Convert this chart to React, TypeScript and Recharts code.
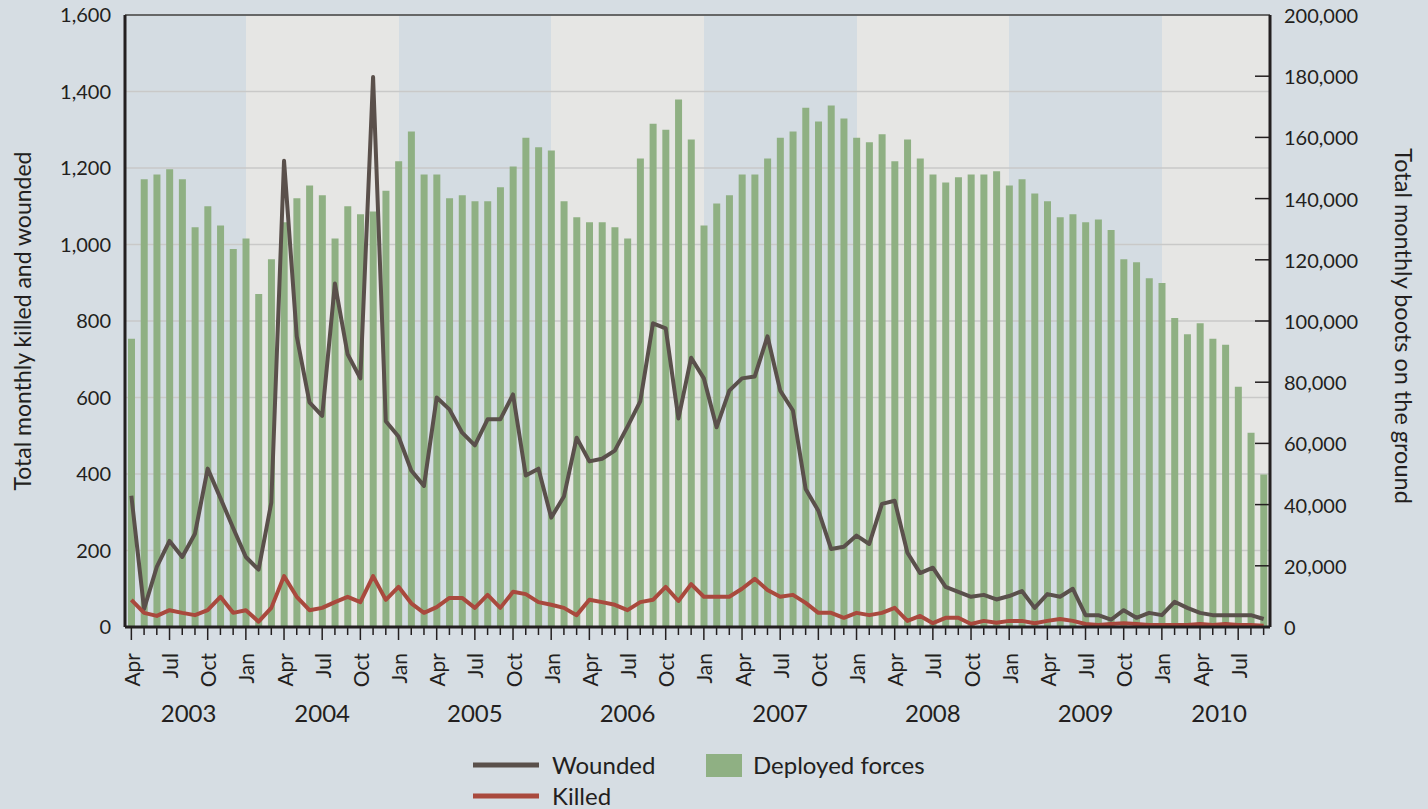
import React from 'react';
import { Bar, CartesianGrid, ComposedChart, Line, ReferenceLine, XAxis, YAxis } from 'recharts';

const monthNames = ['Jan', 'Feb', 'Mar', 'Apr', 'May', 'Jun', 'Jul', 'Aug', 'Sep', 'Oct', 'Nov', 'Dec'];
const firstYear = 2003;
const firstMonth = 3; // April 2003

// Deployed forces, Apr 2003 .. Sep 2010
const deployed = [
  94200, 146300, 147900, 149600, 146300, 130600, 137500, 131200, 123500,
  127000, 108800, 120200, 132300, 140100, 144300, 141100, 127000, 137500, 134900, 135800, 142600,
  152200, 161900, 147900, 147900, 140100, 141100, 139100, 139100, 143700, 150500, 159900, 156800,
  155700, 139100, 133900, 132300, 132300, 130600, 127000, 153100, 164500, 162500, 172400, 159300,
  131200, 138400, 141100, 147900, 147900, 153100, 159900, 161900, 169700, 165200, 170400, 166200,
  159900, 158400, 161000, 152200, 159300, 153100, 147900, 145300, 147000, 147900, 147900, 148900,
  144300, 146300, 141700, 139100, 133900, 134900, 132300, 133200, 129700, 120200, 119200, 114000,
  112400, 101000, 95700, 99300, 94200, 92200, 78500, 63500, 49800,
];

const wounded = [
  343, 47, 157, 225, 183, 244, 414, 337, 259,
  183, 150, 325, 1219, 760, 587, 552, 898, 713, 650, 1438, 538,
  498, 409, 369, 600, 569, 508, 475, 543, 543, 608, 396, 414,
  286, 341, 495, 433, 440, 461, 524, 590, 794, 781, 545, 704,
  650, 522, 618, 650, 655, 760, 618, 566, 361, 304, 204, 210,
  239, 217, 322, 330, 194, 141, 155, 105, 92, 79, 84, 72,
  81, 94, 50, 86, 79, 100, 31, 31, 19, 44, 24, 37,
  31, 66, 50, 37, 31, 31, 31, 31, 21,
];

const killed = [
  71, 37, 29, 44, 37, 31, 44, 79, 37,
  44, 14, 50, 133, 79, 44, 50, 65, 79, 65, 133, 71,
  105, 62, 37, 52, 76, 76, 50, 84, 50, 92, 86, 65,
  58, 50, 31, 71, 65, 58, 44, 65, 71, 105, 68, 112,
  79, 79, 79, 100, 126, 97, 79, 84, 63, 37, 37, 24,
  37, 31, 37, 50, 16, 29, 10, 24, 24, 8, 16, 11,
  16, 16, 10, 16, 21, 16, 8, 5, 8, 10, 8, 5,
  5, 5, 5, 8, 5, 8, 5, 5, 3,
];

const leftTicks = [0, 200, 400, 600, 800, 1000, 1200, 1400, 1600];
const rightTicks = [0, 20000, 40000, 60000, 80000, 100000, 120000, 140000, 160000, 180000, 200000];

const INK = '#231f20';
const PAGE = '#d6dde3';
const BAND_BLUE = '#d4dce2';
const BAND_GREY = '#e6e6e4';
const GREEN = '#8fb083';
const BROWN = '#5a504b';
const RED = '#a9493d';

const legendLines = [
  { name: 'Wounded', color: BROWN },
  { name: 'Killed', color: RED },
];

const data = deployed.map((d, i) => ({
  idx: i,
  month: (firstMonth + i) % 12,
  year: firstYear + Math.floor((firstMonth + i) / 12),
  deployed: d,
  wounded: wounded[i],
  killed: killed[i],
}));

const years = Array.from(new Set(data.map((d) => d.year)));
const yearMid = years.map((y) => {
  const rows = data.filter((d) => d.year === y);
  return (rows[0].idx + rows[rows.length - 1].idx + 1) / 2;
});
const janIdx = data.filter((d) => d.month === 0).map((d) => d.idx);

const fmt = (v: number) => v.toLocaleString('en-US');

const MonthTick = (props: any) => {
  const { x, y, payload } = props;
  const m = data[payload.value]?.month ?? 0;
  const labelled = m % 3 === 0;
  const ty = y + 26;
  return (
    <g>
      <line x1={x} x2={x} y1={y} y2={y + (labelled ? 13 : 8)} stroke={INK} strokeWidth={1.5} />
      {labelled && (
        <text
          x={x}
          y={ty}
          transform={`rotate(-90 ${x} ${ty})`}
          textAnchor="end"
          dominantBaseline="central"
          fill={INK}
          fontSize={21}
        >
          {monthNames[m]}
        </text>
      )}
    </g>
  );
};

const YearTick = (props: any) => {
  const { x, y, payload } = props;
  const k = yearMid.indexOf(payload.value);
  return (
    <text x={x} y={y + 15} textAnchor="middle" dominantBaseline="central" fill={INK} fontSize={24}>
      {years[k]}
    </text>
  );
};

const RightTick = (props: any) => {
  const { x, y, payload } = props;
  const inner = payload.value > 0 && payload.value < 200000;
  return (
    <g>
      {inner && <line x1={x - 15} x2={x} y1={y} y2={y} stroke={INK} strokeWidth={1.5} />}
      <text x={x + 14} y={y} dominantBaseline="central" fill={INK} fontSize={20}>
        {fmt(payload.value)}
      </text>
    </g>
  );
};

const bandPoints = ({ xAxis, offset }: any) => {
  const n = data.length;
  const toX = (i: number) =>
    xAxis && typeof xAxis.scale === 'function'
      ? xAxis.scale(i)
      : offset.left + ((i + 0.5) / n) * offset.width;
  return [offset.left, ...janIdx.map(toX)];
};

const App: React.FC = () => {
  return (
    <div
      style={{
        position: 'fixed',
        left: 0,
        top: 0,
        width: 1428,
        height: 809,
        background: PAGE,
        fontFamily: 'Lato, "Open Sans", sans-serif',
        color: INK,
        overflow: 'hidden',
      }}
    >
      <ComposedChart width={1428} height={809} data={data} margin={{ top: 15, right: 0, left: 0, bottom: 67 }}>
        <CartesianGrid
          yAxisId="left"
          horizontal={false}
          vertical
          stroke="none"
          verticalFill={[BAND_BLUE, BAND_GREY]}
          fillOpacity={1}
          verticalCoordinatesGenerator={bandPoints}
        />
        <CartesianGrid yAxisId="left" vertical={false} stroke="#c9c9c8" strokeWidth={1.5} />
        <XAxis
          dataKey="idx"
          type="number"
          domain={[-0.5, data.length - 0.5]}
          ticks={data.map((d) => d.idx)}
          interval={0}
          height={70}
          tickSize={0}
          tickMargin={0}
          tickLine={false}
          tick={<MonthTick />}
          axisLine={{ stroke: INK, strokeWidth: 3 }}
        />
        <XAxis
          xAxisId="year"
          dataKey="idx"
          type="number"
          domain={[-0.5, data.length - 0.5]}
          ticks={yearMid}
          interval={0}
          height={45}
          tickSize={0}
          tickMargin={0}
          tickLine={false}
          axisLine={false}
          tick={<YearTick />}
        />
        <YAxis
          yAxisId="left"
          domain={[0, 1600]}
          ticks={leftTicks}
          interval={0}
          width={125}
          tickSize={0}
          tickMargin={14}
          tickLine={false}
          tickFormatter={fmt}
          tick={{ fill: INK, fontSize: 20 }}
          axisLine={{ stroke: INK, strokeWidth: 3 }}
          label={{
            position: 'insideLeft',
            content: (p: any) => {
              const vb = p.viewBox || {};
              const cx = (vb.x ?? 0) + 22;
              const cy = (vb.y ?? 15) + (vb.height ?? 612) / 2;
              return (
                <text
                  x={cx}
                  y={cy}
                  transform={`rotate(-90 ${cx} ${cy})`}
                  textAnchor="middle"
                  dominantBaseline="central"
                  fill={INK}
                  fontSize={23}
                >
                  Total monthly killed and wounded
                </text>
              );
            },
          }}
        />
        <YAxis
          yAxisId="right"
          orientation="right"
          domain={[0, 200000]}
          ticks={rightTicks}
          interval={0}
          width={158}
          tickSize={0}
          tickMargin={0}
          tickLine={false}
          tick={<RightTick />}
          axisLine={{ stroke: INK, strokeWidth: 3 }}
          label={{
            position: 'insideRight',
            content: (p: any) => {
              const vb = p.viewBox || {};
              const cx = (vb.x ?? 1270) + 134;
              const cy = (vb.y ?? 15) + (vb.height ?? 612) / 2 + 5;
              return (
                <text
                  x={cx}
                  y={cy}
                  transform={`rotate(90 ${cx} ${cy})`}
                  textAnchor="middle"
                  dominantBaseline="central"
                  fill={INK}
                  fontSize={23.5}
                >
                  Total monthly boots on the ground
                </text>
              );
            },
          }}
        />
        <ReferenceLine yAxisId="left" y={1600} stroke="#444" strokeWidth={1.5} />
        <Bar yAxisId="right" dataKey="deployed" fill={GREEN} barSize={7} isAnimationActive={false} name="Deployed forces" />
        <Line
          yAxisId="left"
          type="linear"
          dataKey="wounded"
          stroke={BROWN}
          strokeWidth={4}
          dot={false}
          strokeLinejoin="round"
          isAnimationActive={false}
          name="Wounded"
        />
        <Line
          yAxisId="left"
          type="linear"
          dataKey="killed"
          stroke={RED}
          strokeWidth={4}
          dot={false}
          strokeLinejoin="round"
          isAnimationActive={false}
          name="Killed"
        />
      </ComposedChart>
      {/* legend */}
      {legendLines.map((l, i) => (
        <div
          key={l.name}
          style={{ position: 'absolute', left: 473, top: 753 + i * 31, height: 24, display: 'flex', alignItems: 'center' }}
        >
          <svg width={66} height={6} style={{ display: 'block' }}>
            <line x1={0} x2={66} y1={3} y2={3} stroke={l.color} strokeWidth={5} />
          </svg>
          <span style={{ marginLeft: 13, fontSize: 24, lineHeight: '24px' }}>{l.name}</span>
        </div>
      ))}
      <div style={{ position: 'absolute', left: 706, top: 753, height: 24, display: 'flex', alignItems: 'center' }}>
        <div style={{ width: 36, height: 23, background: GREEN }} />
        <span style={{ marginLeft: 11, fontSize: 24, lineHeight: '24px' }}>Deployed forces</span>
      </div>
    </div>
  );
};

export default App;
